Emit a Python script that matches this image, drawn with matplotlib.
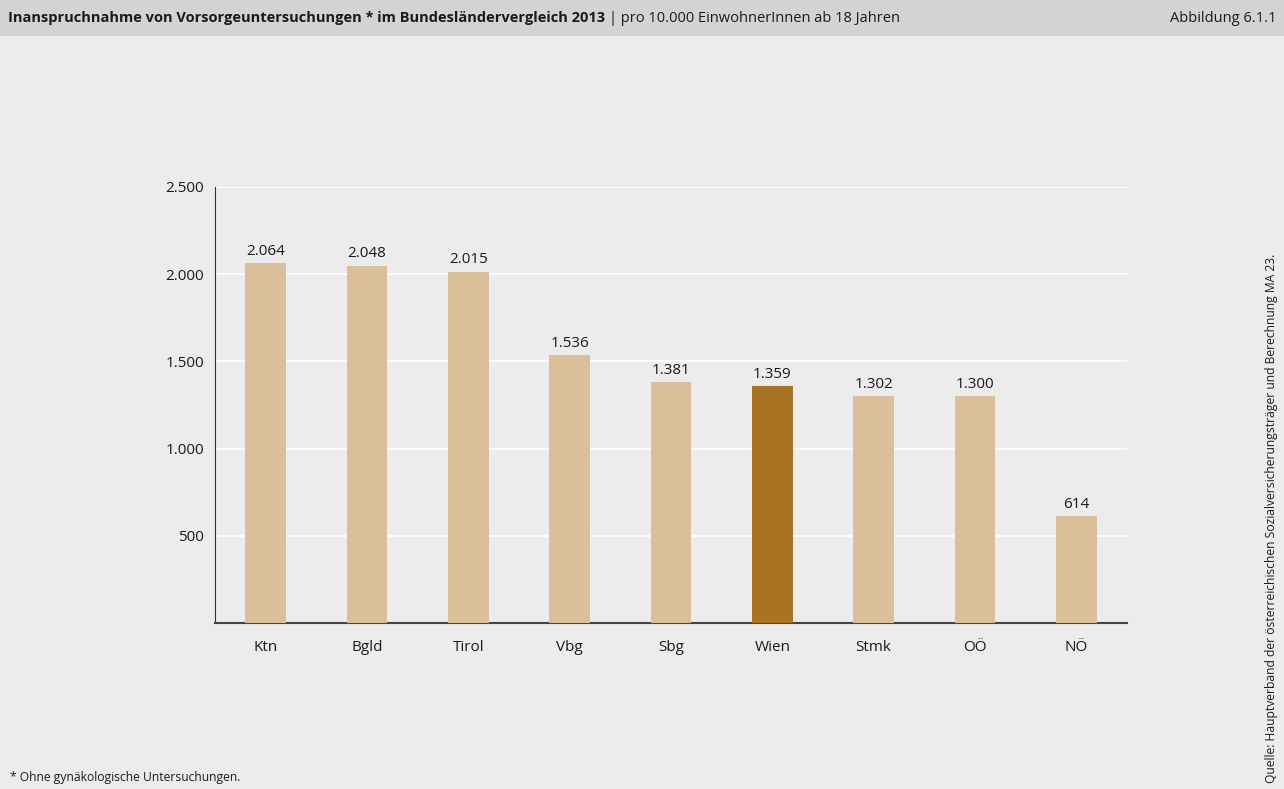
import matplotlib.pyplot as plt

regions = ['Ktn', 'Bgld', 'Tirol', 'Vbg', 'Sbg', 'Wien', 'Stmk', 'OÖ', 'NÖ']
values = [2064, 2048, 2015, 1536, 1381, 1359, 1302, 1300, 614]
highlight = 'Wien'
yticks = [500, 1000, 1500, 2000, 2500]

plt.rcParams['font.family'] = ['Open Sans', 'DejaVu Sans']

bg = '#ececec'
fig = plt.figure(figsize=(12.84, 7.89), dpi=100, facecolor=bg)

# header band
fig.patches.append(plt.Rectangle((0, 1 - 36 / 789), 1, 36 / 789, transform=fig.transFigure,
                                 facecolor='#d3d3d3', edgecolor='none', zorder=0))
title = fig.text(8 / 1284, 1 - 18 / 789,
                 'Inanspruchnahme von Vorsorgeuntersuchungen * im Bundesländervergleich 2013',
                 fontsize=10.5, fontweight='bold', va='center', ha='left', color='#1a1a1a')
fig.canvas.draw()
r = title.get_window_extent()
fig.text(r.x1 / 1284 + 0.003, 1 - 18 / 789, '| pro 10.000 EinwohnerInnen ab 18 Jahren',
         fontsize=10.5, va='center', ha='left', color='#1a1a1a')
fig.text(1 - 8 / 1284, 1 - 18 / 789, 'Abbildung 6.1.1', fontsize=10.5, va='center', ha='right',
         color='#1a1a1a')

ax = fig.add_axes([215 / 1284, 1 - 623 / 789, (1127 - 215) / 1284, (623 - 187) / 789])
ax.set_facecolor(bg)

x = range(len(regions))
colors = ['#a87424' if r == highlight else '#dbbf9a' for r in regions]
ax.bar(x, values, width=0.40, color=colors, zorder=3)
for xi, v in zip(x, values):
    ax.text(xi, v + 25, f'{v:,}'.replace(',', '.'), ha='center', va='bottom', fontsize=11,
            color='#1a1a1a', zorder=4)

ax.set_xlim(-0.5, len(regions) - 0.5)
ax.set_ylim(0, 2500)
ax.set_yticks(yticks)
ax.set_yticklabels([f'{v:,}'.replace(',', '.') for v in yticks])
ax.set_xticks(list(x))
ax.set_xticklabels(regions)
ax.tick_params(axis='both', length=0, labelsize=11, colors='#1a1a1a')
ax.tick_params(axis='y', pad=8)
ax.tick_params(axis='x', pad=12)
ax.yaxis.grid(True, color='white', linewidth=1.2, zorder=1)
ax.set_axisbelow(True)
for s in ['top', 'right']:
    ax.spines[s].set_visible(False)
ax.spines['left'].set_color('#333333')
ax.spines['bottom'].set_color('#444444')
ax.spines['bottom'].set_linewidth(1.5)

fig.text(10 / 1284, 1 - 778 / 789, '* Ohne gynäkologische Untersuchungen.', fontsize=8.7,
         va='center', ha='left', color='#1a1a1a')
fig.text(1272 / 1284, 1 - 783 / 789,
         'Quelle: Hauptverband der österreichischen Sozialversicherungsträger und Berechnung MA 23.',
         fontsize=8.7, rotation=90, va='bottom', ha='center', color='#1a1a1a')

fig.savefig('out.png', dpi=100, facecolor=bg)
